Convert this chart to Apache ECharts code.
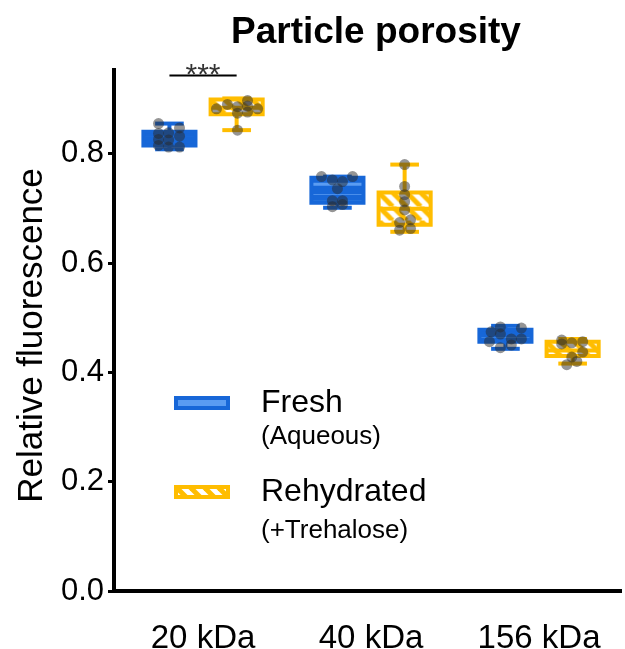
<!DOCTYPE html>
<html>
<head>
<meta charset="utf-8">
<script src="https://cdn.jsdelivr.net/npm/echarts@6/dist/echarts.min.js"></script>
<style>
  html, body { margin: 0; padding: 0; background: #fff; }
  #chart { width: 625px; height: 649px; }
</style>
</head>
<body>
<div id="chart"></div>
<script>
const categories = ['20 kDa', '40 kDa', '156 kDa']
const seriesNames = ['Fresh', 'Rehydrated']
const yTicks = [0, 0.2, 0.4, 0.6, 0.8]

// box stats: [min, Q1, median, Q3, max]
const freshBox = [
  [0.808, 0.815, 0.828, 0.840, 0.855],
  [0.701, 0.710, 0.730, 0.756, 0.758],
  [0.443, 0.456, 0.468, 0.478, 0.485]
]
const rehydratedBox = [
  [0.843, 0.872, 0.884, 0.899, 0.901],
  [0.657, 0.670, 0.699, 0.729, 0.780],
  [0.416, 0.430, 0.440, 0.456, 0.461]
]

// individual points: [jitter, value]
const freshPoints = [
  [[-0.065, 0.855], [0.06, 0.847], [-0.065, 0.837], [-0.005, 0.838], [0.06, 0.832], [-0.065, 0.826], [-0.005, 0.825], [-0.065, 0.815], [-0.005, 0.812], [0.06, 0.812]],
  [[-0.095, 0.758], [-0.03, 0.752], [0.03, 0.749], [0.09, 0.758], [0, 0.736], [-0.03, 0.714], [0.03, 0.714], [-0.03, 0.703], [0.03, 0.707]],
  [[-0.085, 0.474], [-0.03, 0.483], [-0.03, 0.470], [0.095, 0.481], [-0.095, 0.456], [0.035, 0.461], [0.035, 0.450], [-0.03, 0.445], [0.095, 0.461]]
]
const rehydratedPoints = [
  [[-0.12, 0.882], [-0.055, 0.890], [0.005, 0.886], [0.065, 0.897], [0.065, 0.887], [0.065, 0.876], [0.125, 0.882], [0.005, 0.874], [0.005, 0.843]],
  [[0, 0.780], [0, 0.740], [0, 0.725], [0, 0.712], [0, 0.697], [0.035, 0.679], [-0.03, 0.674], [-0.03, 0.660], [0.035, 0.663]],
  [[-0.065, 0.459], [-0.065, 0.452], [-0.005, 0.454], [0.06, 0.456], [0.06, 0.437], [-0.005, 0.428], [0.025, 0.420], [-0.035, 0.414]]
]

// significance bracket between the two 20 kDa boxes
const sigCategory = 0
const sigLevel = 0.943
const sigText = '***'

const BLUE = '#1767d8'
const LIGHT_BLUE = '#5a9cf2'
const YELLOW = '#ffbd00'
const DOT = 'rgba(40,40,40,0.62)'
const FONT = 'Liberation Sans, Arial, sans-serif'
const OFFSET = 0.2
const BOX_W = 0.31

function hLinePattern() {
  const c = document.createElement('canvas')
  c.width = 9
  c.height = 9
  const ctx = c.getContext('2d')
  ctx.fillStyle = BLUE
  ctx.fillRect(0, 0, 9, 9)
  ctx.fillStyle = LIGHT_BLUE
  ctx.fillRect(0, 5, 9, 3)
  return c
}

function diagPattern() {
  const p = 14
  const c = document.createElement('canvas')
  c.width = p
  c.height = p
  const ctx = c.getContext('2d')
  ctx.fillStyle = '#fff'
  ctx.fillRect(0, 0, p, p)
  ctx.strokeStyle = YELLOW
  ctx.lineWidth = 5
  for (let k = -1; k <= 1; k++) {
    ctx.beginPath()
    ctx.moveTo(k * p, 0)
    ctx.lineTo(k * p + p, p)
    ctx.stroke()
  }
  return c
}

const freshFill = { image: hLinePattern(), repeat: 'repeat' }
const rehydFill = { image: diagPattern(), repeat: 'repeat' }

function boxData(stats, shift) {
  return stats.map((s, i) => [i + shift].concat(s))
}

function pointData(groups, shift) {
  const out = []
  groups.forEach((g, i) => g.forEach(p => out.push([i + shift + p[0], p[1]])))
  return out
}

function makeRender(color, fill) {
  return function (params, api) {
    const x = api.value(0)
    const pMin = api.coord([x, api.value(1)])
    const pQ1 = api.coord([x, api.value(2)])
    const pMed = api.coord([x, api.value(3)])
    const pQ3 = api.coord([x, api.value(4)])
    const pMax = api.coord([x, api.value(5)])
    const half = api.size([BOX_W, 0])[0] / 2
    const cap = half * 0.55
    const cx = pMed[0]
    const line = (x1, y1, x2, y2) => ({
      type: 'line',
      shape: { x1, y1, x2, y2 },
      style: { stroke: color, lineWidth: 4 }
    })
    return {
      type: 'group',
      children: [
        line(cx, pMax[1], cx, pQ3[1]),
        line(cx, pQ1[1], cx, pMin[1]),
        line(cx - cap, pMax[1], cx + cap, pMax[1]),
        line(cx - cap, pMin[1], cx + cap, pMin[1]),
        {
          type: 'rect',
          x: cx - half,
          y: pQ3[1],
          shape: { x: 0, y: 0, width: half * 2, height: pQ1[1] - pQ3[1] },
          style: { fill: fill, stroke: color, lineWidth: 4 }
        },
        line(cx - half, pMed[1], cx + half, pMed[1])
      ]
    }
  }
}

const chart = echarts.init(document.getElementById('chart'))

const legendBase = {
  orient: 'vertical',
  icon: 'rect',
  itemWidth: 52,
  itemHeight: 10,
  selectedMode: false,
  left: 169
}

function legendRich(subHeight) {
  return {
    fontFamily: FONT,
    color: '#000',
    rich: {
      sp: { fontSize: 26, lineHeight: subHeight },
      a: { fontSize: 32, lineHeight: 36, padding: [0, 0, 0, 28], fontFamily: FONT, color: '#000' },
      b: { fontSize: 26, lineHeight: subHeight, padding: [0, 0, 0, 28], fontFamily: FONT, color: '#000' }
    }
  }
}

chart.setOption({
  animation: false,
  title: {
    text: 'Particle porosity',
    left: 226,
    top: 9,
    textStyle: { fontFamily: FONT, fontSize: 37, fontWeight: 'bold', color: '#000' }
  },
  grid: { left: 114, right: 5, top: 70, bottom: 58, outerBoundsMode: 'none', containLabel: false },
  legend: [
    Object.assign({}, legendBase, {
      top: 351,
      data: [{ name: 'Fresh', itemStyle: { color: LIGHT_BLUE, borderColor: BLUE, borderWidth: 4 } }],
      formatter: '{sp| }\n{a|Fresh}\n{b|(Aqueous)}',
      textStyle: legendRich(32)
    }),
    Object.assign({}, legendBase, {
      top: 435,
      data: [{ name: 'Rehydrated', itemStyle: { color: rehydFill, borderColor: YELLOW, borderWidth: 4 } }],
      formatter: '{sp| }\n{a|Rehydrated}\n{b|(+Trehalose)}',
      textStyle: legendRich(42)
    })
  ],
  xAxis: {
    type: 'value',
    min: -0.53,
    max: 2.482,
    splitLine: { show: false },
    axisTick: { show: false },
    axisLine: { onZero: false, lineStyle: { color: '#000', width: 4, cap: 'square' } },
    axisLabel: {
      customValues: [0, 1, 2],
      formatter: v => categories[Math.round(v)],
      fontFamily: FONT,
      fontSize: 33,
      color: '#000',
      margin: 31
    }
  },
  yAxis: {
    type: 'value',
    min: 0,
    max: 0.953,
    name: 'Relative fluorescence',
    nameLocation: 'middle',
    nameGap: 60,
    nameTextStyle: { fontFamily: FONT, fontSize: 35, color: '#000', padding: [0, 10, 0, 0] },
    splitLine: { show: false },
    axisLine: { show: true, onZero: false, lineStyle: { color: '#000', width: 4, cap: 'square' } },
    axisTick: { show: true, customValues: yTicks, length: 6, lineStyle: { color: '#000', width: 3 } },
    axisLabel: {
      customValues: yTicks,
      formatter: v => v.toFixed(1),
      fontFamily: FONT,
      fontSize: 31,
      color: '#000',
      margin: 10
    }
  },
  series: [
    {
      name: seriesNames[0],
      type: 'custom',
      renderItem: makeRender(BLUE, freshFill),
      itemStyle: { color: BLUE },
      encode: { x: 0, y: [1, 2, 3, 4, 5] },
      data: boxData(freshBox, -OFFSET),
      z: 2
    },
    {
      name: seriesNames[1],
      type: 'custom',
      renderItem: makeRender(YELLOW, rehydFill),
      itemStyle: { color: YELLOW },
      encode: { x: 0, y: [1, 2, 3, 4, 5] },
      data: boxData(rehydratedBox, OFFSET),
      z: 2
    },
    {
      name: 'freshPts',
      type: 'scatter',
      symbolSize: 11,
      itemStyle: { color: DOT },
      data: pointData(freshPoints, -OFFSET),
      z: 3
    },
    {
      name: 'rehydPts',
      type: 'scatter',
      symbolSize: 11,
      itemStyle: { color: DOT },
      data: pointData(rehydratedPoints, OFFSET),
      z: 3
    },
    {
      name: 'sig',
      type: 'line',
      symbol: 'none',
      lineStyle: { color: '#000', width: 2 },
      data: [[sigCategory - OFFSET, sigLevel], [sigCategory + OFFSET, sigLevel]],
      z: 4
    },
    {
      name: 'sigLabel',
      type: 'scatter',
      symbolSize: 0,
      data: [[sigCategory, sigLevel]],
      label: {
        show: true,
        formatter: sigText,
        position: 'inside',
        offset: [0, 0],
        fontFamily: FONT,
        fontSize: 30,
        color: '#000'
      },
      z: 4
    }
  ]
})
</script>
</body>
</html>
